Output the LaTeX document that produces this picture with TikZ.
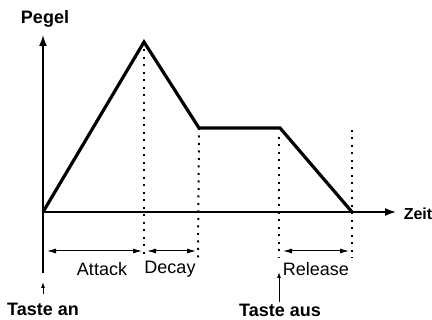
\documentclass[tikz,border=0pt]{standalone}
\usepackage{fontspec}
\setmainfont{Liberation Sans}
\usetikzlibrary{arrows.meta}

\begin{document}
\begin{tikzpicture}[x=1pt,y=-1pt,line width=1.6pt,
  axis/.style={-{Latex[length=11pt,width=8pt]}},
  envelope/.style={line width=3.2pt,line join=miter},
  guide/.style={line width=2pt,dash pattern=on 2pt off 5.5pt},
  span/.style={{Latex[length=9pt,width=5pt]}-{Latex[length=9pt,width=5pt]},line width=1pt},
  phase/.style={font=\fontsize{18}{20}\selectfont,inner sep=0pt},
  keylabel/.style={font=\bfseries\fontsize{18}{20}\selectfont,inner sep=0pt}]
\useasboundingbox (0,0) rectangle (432,320);
% Eckpunkte der Huellkurve
\coordinate (O) at (43,212);
\coordinate (A) at (144,42);
\coordinate (D) at (199,128);
\coordinate (S) at (280,128);
\coordinate (R) at (352,212);
% Achsen
\draw[axis] (43,273) -- (43,35) coordinate (ytip);
\draw[axis] (O) -- (396,212) coordinate (xtip);
\node[keylabel] (pegel) at (45,19) {Pegel};
\node[keylabel,anchor=west,font=\bfseries\fontsize{16}{18}\selectfont] (zeit) at (403,214) {Zeit};
% Hilfslinien
\draw[guide] (A) -- (144,258);
\draw[guide] (D) -- (198,258);
\draw[guide] (279,137) -- (279,258);
\draw[guide] (352,130) -- (352,258);
% Huellkurve
\draw[envelope] (O) -- (A) -- (D) -- (S) -- (R);
% Phasen
\draw[span] (47,251) coordinate (a1) -- (142,251) coordinate (a2);
\draw[span] (147,251) coordinate (d1) -- (196,251) coordinate (d2);
\draw[span] (283,251) coordinate (r1) -- (349,251) coordinate (r2);
\node[phase] (attack) at (102,269) {Attack};
\node[phase] (decay) at (170,269) {Decay};
\node[phase] (release) at (316,269) {Release};
% Tasten
\node[keylabel] (an) at (43,309) {Taste an};
\node[keylabel] (aus) at (280,310) {Taste aus};
\draw[-{Latex[length=6pt,width=4pt]},line width=1pt] (43,294) -- (43,282);
\draw[-{Latex[length=6pt,width=4pt]},line width=1pt] (279,302) -- (279,272);
\end{tikzpicture}
\end{document}
